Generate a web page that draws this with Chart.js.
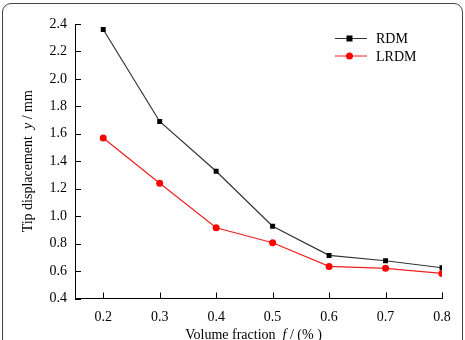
<!DOCTYPE html>
<html>
<head>
<meta charset="utf-8">
<script src="https://cdn.jsdelivr.net/npm/chart.js@4/dist/chart.umd.min.js"></script>
<style>
  body { margin: 0; background: #fff; }
  #wrap { position: relative; width: 465px; height: 340px; overflow: hidden; }
  #frame { position: absolute; left: 2px; top: 3px; width: 459px; height: 360px;
           border: 1.5px solid #444; border-radius: 9px; pointer-events: none; }
  canvas { position: absolute; left: 0; top: 0; }
</style>
</head>
<body>
<div id="wrap">
  <canvas id="grafik" width="465" height="340"></canvas>
  <div id="frame"></div>
</div>
<script>
const fraksi = [0.2, 0.3, 0.4, 0.5, 0.6, 0.7, 0.8];
const rdm = [2.36, 1.69, 1.327, 0.927, 0.714, 0.675, 0.624];
const lrdm = [1.57, 1.24, 0.915, 0.806, 0.634, 0.62, 0.583];
const tickX = [0.2, 0.3, 0.4, 0.5, 0.6, 0.7, 0.8];
const tickY = [0.4, 0.6, 0.8, 1.0, 1.2, 1.4, 1.6, 1.8, 2.0, 2.2, 2.4];

const serif = "'Liberation Serif', 'Times New Roman', serif";

function titikTitik(arr) {
  return fraksi.map((x, i) => ({ x: x, y: arr[i] }));
}

// draw a run of text pieces, some italic, centred at (0,0)
function tulisCampur(ctx, parts) {
  let total = 0;
  parts.forEach(p => {
    ctx.font = (p.italic ? "italic " : "") + "14px " + serif;
    p.w = ctx.measureText(p.t).width;
    total += p.w;
  });
  let x = -total / 2;
  parts.forEach(p => {
    ctx.font = (p.italic ? "italic " : "") + "14px " + serif;
    ctx.fillText(p.t, x, 0);
    x += p.w;
  });
}

const hiasan = {
  id: "hiasan",
  afterDatasetsDraw(chart) {
    const ctx = chart.ctx;
    const sx = chart.scales.x, sy = chart.scales.y;
    const area = chart.chartArea;
    ctx.save();
    ctx.strokeStyle = "#000";
    ctx.lineWidth = 1;
    // inward ticks
    ctx.beginPath();
    tickX.forEach(v => {
      const px = Math.round(sx.getPixelForValue(v)) + 0.5;
      ctx.moveTo(px, area.bottom);
      ctx.lineTo(px, area.bottom - 6);
    });
    tickY.forEach(v => {
      const py = Math.round(sy.getPixelForValue(v)) + 0.5;
      ctx.moveTo(area.left, py);
      ctx.lineTo(area.left + 6, py);
    });
    ctx.stroke();

    // axis titles
    ctx.fillStyle = "#000";
    ctx.textBaseline = "middle";
    ctx.textAlign = "left";
    ctx.save();
    ctx.translate(28, (area.top + area.bottom) / 2);
    ctx.rotate(-Math.PI / 2);
    tulisCampur(ctx, [{ t: "Tip displacement  " }, { t: "y", italic: true }, { t: " / mm" }]);
    ctx.restore();
    ctx.save();
    ctx.translate((area.left + area.right) / 2 - 5, 335);
    tulisCampur(ctx, [{ t: "Volume fraction  " }, { t: "f", italic: true }, { t: " / (% )" }]);
    ctx.restore();

    // legend inside the plot
    chart.data.datasets.forEach((ds, i) => {
      const y = 38.5 + i * 17.5;
      ctx.strokeStyle = ds.borderColor;
      ctx.lineWidth = 1;
      ctx.beginPath();
      ctx.moveTo(335, y);
      ctx.lineTo(367, y);
      ctx.stroke();
      ctx.fillStyle = ds.pointBackgroundColor;
      if (ds.pointStyle === "rect") {
        ctx.fillRect(346.5, y - 3, 6, 6);
      } else {
        ctx.beginPath();
        ctx.arc(349.5, y, 3.5, 0, Math.PI * 2);
        ctx.fill();
      }
      ctx.fillStyle = "#000";
      ctx.font = "14px " + serif;
      ctx.fillText(ds.label, 376, y + 1);
    });
    ctx.restore();
  }
};

function gambar() {
  new Chart(document.getElementById("grafik"), {
    type: "line",
    data: {
      datasets: [
        {
          label: "RDM",
          data: titikTitik(rdm),
          borderColor: "#333",
          borderWidth: 1.2,
          pointStyle: "rect",
          pointRadius: 3.5,
          pointBackgroundColor: "#000",
          pointBorderColor: "#000",
          pointBorderWidth: 0
        },
        {
          label: "LRDM",
          data: titikTitik(lrdm),
          borderColor: "#f02020",
          borderWidth: 1.2,
          pointStyle: "circle",
          pointRadius: 3.5,
          pointBackgroundColor: "#ff0000",
          pointBorderColor: "#ff0000",
          pointBorderWidth: 0
        }
      ]
    },
    options: {
      responsive: false,
      animation: false,
      layout: { padding: { left: 0, right: 23, top: 24, bottom: 0 } },
      plugins: { legend: { display: false }, tooltip: { enabled: false } },
      scales: {
        x: {
          type: "linear",
          min: 0.15,
          max: 0.8,
          afterBuildTicks: s => { s.ticks = tickX.map(v => ({ value: v })); },
          afterFit: s => { s.height = 41.5; },
          grid: { display: false, drawTicks: false },
          border: { display: true, color: "#000", width: 1 },
          ticks: {
            color: "#000",
            font: { family: serif, size: 14 },
            padding: 10,
            callback: v => v.toFixed(1)
          }
        },
        y: {
          min: 0.4,
          max: 2.4,
          afterBuildTicks: s => { s.ticks = tickY.map(v => ({ value: v })); },
          afterFit: s => { s.width = 75; },
          grid: { display: false, drawTicks: false },
          border: { display: true, color: "#000", width: 1 },
          ticks: {
            color: "#000",
            font: { family: serif, size: 14 },
            padding: 8,
            callback: v => v.toFixed(1)
          }
        }
      }
    },
    plugins: [hiasan]
  });
}

Promise.all([
  document.fonts.load("14px 'Liberation Serif'"),
  document.fonts.load("italic 14px 'Liberation Serif'")
]).then(gambar, gambar);
</script>
</body>
</html>
